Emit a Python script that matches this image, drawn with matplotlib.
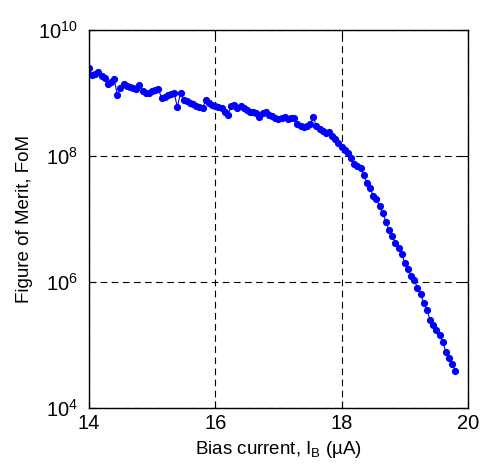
import numpy as np
import matplotlib
matplotlib.use('Agg')
import matplotlib.pyplot as plt
from matplotlib.ticker import FixedLocator, FixedFormatter, NullLocator

plt.rcParams['font.family'] = ['Liberation Sans', 'DejaVu Sans']
plt.rcParams['mathtext.fontset'] = 'custom'
plt.rcParams['mathtext.rm'] = 'Liberation Sans'
plt.rcParams['mathtext.it'] = 'Liberation Sans:italic'

# bias current (uA)
biasCurrent = [14.00, 14.05, 14.10, 14.15, 14.20, 14.25, 14.30, 14.35, 14.40, 14.45,
               14.50, 14.55, 14.60, 14.65, 14.70, 14.75, 14.80, 14.85, 14.90, 14.95,
               15.00, 15.05, 15.10, 15.15, 15.20, 15.25, 15.30, 15.35, 15.40, 15.45,
               15.50, 15.55, 15.60, 15.65, 15.70, 15.75, 15.80, 15.85, 15.90, 15.95,
               16.00, 16.05, 16.10, 16.15, 16.20, 16.25, 16.30, 16.35, 16.40, 16.45,
               16.50, 16.55, 16.60, 16.65, 16.70, 16.75, 16.80, 16.85, 16.90, 16.95,
               17.00, 17.05, 17.10, 17.15, 17.20, 17.25, 17.30, 17.35, 17.40, 17.45,
               17.50, 17.55, 17.60, 17.65, 17.70, 17.75, 17.80, 17.85, 17.90, 17.95,
               18.00, 18.05, 18.10, 18.15, 18.20, 18.25, 18.30, 18.35, 18.40, 18.45,
               18.50, 18.55, 18.60, 18.65, 18.70, 18.75, 18.80, 18.85, 18.90, 18.95,
               19.00, 19.05, 19.10, 19.15, 19.20, 19.25, 19.30, 19.35, 19.40, 19.45,
               19.50, 19.55, 19.60, 19.65, 19.70, 19.75, 19.80]

# figure of merit
fom = [2.49e9, 1.93e9, 2.0e9, 2.15e9, 1.86e9, 1.73e9, 1.39e9, 1.50e9, 1.67e9, 9.3e8,
       1.20e9, 1.39e9, 1.29e9, 1.25e9, 1.20e9, 1.16e9, 1.34e9, 1.08e9, 1.0e9, 1.0e9,
       1.08e9, 1.12e9, 1.16e9, 8.3e8, 8.6e8, 9.3e8, 9.6e8, 1.0e9, 6.0e8, 1.0e9,
       7.7e8, 7.5e8, 6.9e8, 6.7e8, 6.2e8, 6.0e8, 5.8e8, 7.7e8, 6.9e8, 6.5e8,
       6.2e8, 6.0e8, 5.8e8, 5.0e8, 4.5e8, 6.2e8, 6.5e8, 5.8e8, 6.2e8, 5.8e8,
       5.4e8, 5.0e8, 5.0e8, 4.8e8, 4.2e8, 4.8e8, 5.0e8, 4.5e8, 4.3e8, 4.0e8,
       3.9e8, 4.0e8, 4.2e8, 3.9e8, 4.0e8, 4.0e8, 3.2e8, 3.0e8, 2.9e8, 3.0e8,
       3.2e8, 4.2e8, 3.0e8, 2.7e8, 2.5e8, 2.3e8, 2.4e8, 2.1e8, 1.86e8, 1.61e8,
       1.39e8, 1.25e8, 1.12e8, 9.3e7, 7.5e7, 6.9e7, 6.5e7, 5.0e7, 3.7e7, 3.1e7,
       2.3e7, 2.1e7, 1.61e7, 1.24e7, 9.0e6, 6.7e6, 5.4e6, 4.2e6, 3.5e6, 2.8e6,
       2.0e6, 1.61e6, 1.24e6, 1.08e6, 8.0e5, 6.5e5, 4.6e5, 3.6e5, 2.5e5, 2.1e5,
       1.73e5, 1.44e5, 1.12e5, 7.7e4, 6.2e4, 5.0e4, 3.9e4]

xTicks = [14, 16, 18, 20]
yTicks = [1e4, 1e6, 1e8, 1e10]
yTickLabels = [r'$\mathregular{10^{4}}$', r'$\mathregular{10^{6}}$',
               r'$\mathregular{10^{8}}$', r'$\mathregular{10^{10}}$']

fig = plt.figure(figsize=(4.83, 4.70), dpi=100)
ax = fig.add_axes([0.184, 0.132, 0.785, 0.804])

ax.semilogy(biasCurrent, fom, '-o', color='#0000ff', linewidth=0.8,
            markersize=5.2, markeredgewidth=0)

ax.set_xlim(14, 20)
ax.set_ylim(1e4, 1e10)
ax.xaxis.set_major_locator(FixedLocator(xTicks))
ax.yaxis.set_major_locator(FixedLocator(yTicks))
ax.yaxis.set_major_formatter(FixedFormatter(yTickLabels))
ax.yaxis.set_minor_locator(NullLocator())
ax.tick_params(direction='in', top=True, right=True, labelsize=14.5, length=5, width=0.8)
ax.tick_params(axis='x', pad=4)
ax.tick_params(axis='y', pad=8)

ax.grid(True, which='major', color='black', linestyle=(0, (6, 4)), linewidth=0.8)
for s in ax.spines.values():
    s.set_linewidth(1.0)

ax.set_xlabel('Bias current, I$_\\mathregular{B}$ (\u00b5A)', fontsize=13.5, labelpad=5)
ax.set_ylabel('Figure of Merit, FoM', fontsize=13.5, labelpad=4)

plt.savefig('out.png', dpi=100)
